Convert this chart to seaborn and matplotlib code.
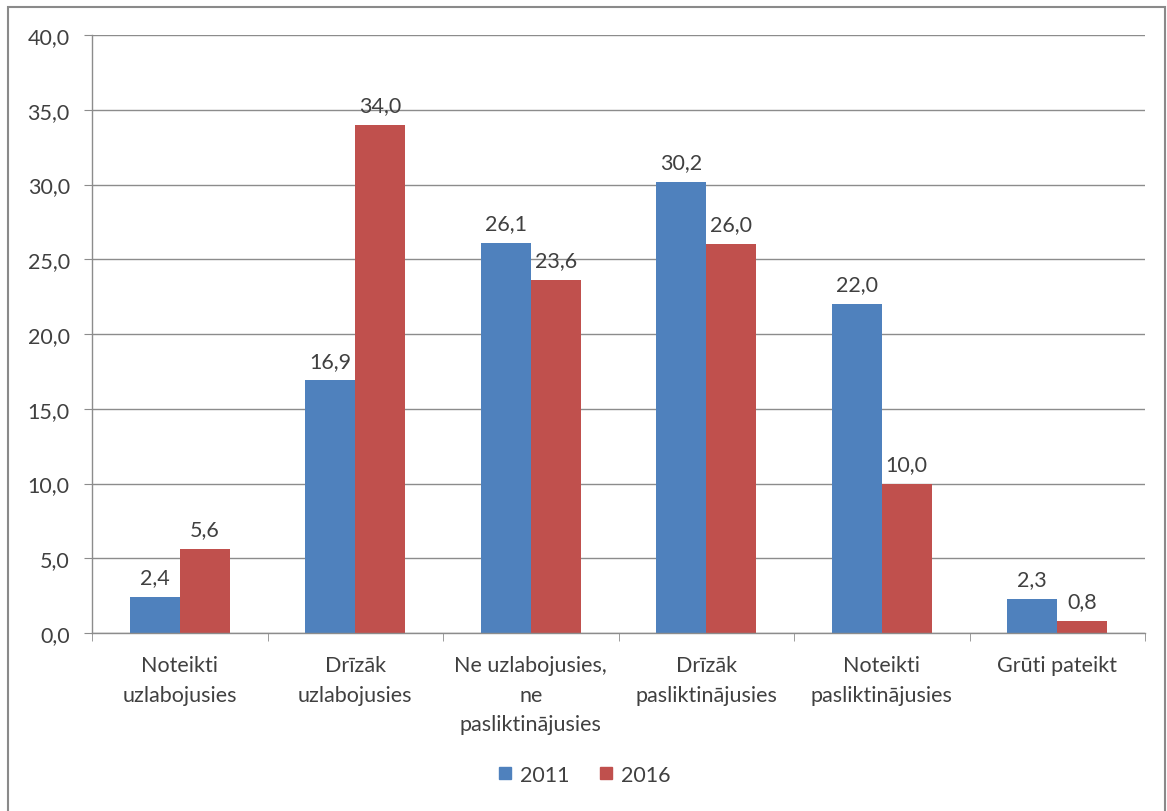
import matplotlib
matplotlib.use("Agg")
import matplotlib.pyplot as plt
import seaborn as sns
import pandas as pd
from matplotlib.lines import Line2D

categories = ["Noteikti\nuzlabojusies", "Drīzāk\nuzlabojusies", "Ne uzlabojusies,\nne\npasliktinājusies",
              "Drīzāk\npasliktinājusies", "Noteikti\npasliktinājusies", "Grūti pateikt"]
values_2011 = [2.4, 16.9, 26.1, 30.2, 22.0, 2.3]
values_2016 = [5.6, 34.0, 23.6, 26.0, 10.0, 0.8]
series = ["2011", "2016"]
colors = ["#4F81BD", "#C0504D"]
yticks = [0, 5, 10, 15, 20, 25, 30, 35, 40]

df = pd.DataFrame({
    "cat": categories * 2,
    "val": values_2011 + values_2016,
    "year": [series[0]] * len(categories) + [series[1]] * len(categories),
})

sns.set_style("white")
plt.rcParams["font.family"] = ["Lato", "DejaVu Sans"]
FS = 15.5
TC = "#404040"

fig = plt.figure(figsize=(11.67, 8.12), dpi=100)
ax = fig.add_axes([92/1167, 1 - 634/812, (1145-92)/1167, (634-36)/812])

sns.barplot(data=df, x="cat", y="val", hue="year", palette=colors, width=0.57,
            ax=ax, saturation=1, legend=False, linewidth=0)

ax.set_ylim(0, 40)
ax.set_xlim(-0.5, len(categories) - 0.5)
ax.set_yticks(yticks)
ax.set_yticklabels([f"{v:.1f}".replace(".", ",") for v in yticks], fontsize=FS, color=TC)
ax.yaxis.grid(True, color="#8c8c8c", linewidth=1)
ax.set_axisbelow(True)
ax.set_xlabel("")
ax.set_ylabel("")

for s in ["top", "right"]:
    ax.spines[s].set_visible(False)
for s in ["left", "bottom"]:
    ax.spines[s].set_color("#8c8c8c")
    ax.spines[s].set_linewidth(1)

ax.tick_params(axis="y", length=6, color="#8c8c8c", pad=10, left=True)
ax.set_xticks(range(len(categories)))
ax.set_xticklabels(categories, fontsize=FS, color=TC, linespacing=1.6, va="top")
ax.tick_params(axis="x", length=0, pad=16)
ax.set_xticks([i - 0.5 for i in range(len(categories) + 1)], minor=True)
ax.tick_params(axis="x", which="minor", length=6, color="#8c8c8c", bottom=True)

for container in ax.containers:
    labels = [f"{v:.1f}".replace(".", ",") for v in container.datavalues]
    ax.bar_label(container, labels=labels, padding=7, fontsize=FS, color=TC)

handles = [Line2D([], [], marker="s", linestyle="", markersize=9, color=c) for c in colors]
fig.legend(handles, series, loc="center", bbox_to_anchor=(0.5, 1 - 776/812), ncol=2,
           frameon=False, fontsize=FS, handletextpad=0.3, handlelength=0.8,
           columnspacing=1.3, labelcolor=TC)

fig.add_artist(plt.Rectangle((8/1167, -0.05), (1165-8)/1167, 1.05 - 8/812,
                             transform=fig.transFigure, fill=False, edgecolor="#8a8a8a", linewidth=1.5))

fig.savefig("out.png", dpi=100)
